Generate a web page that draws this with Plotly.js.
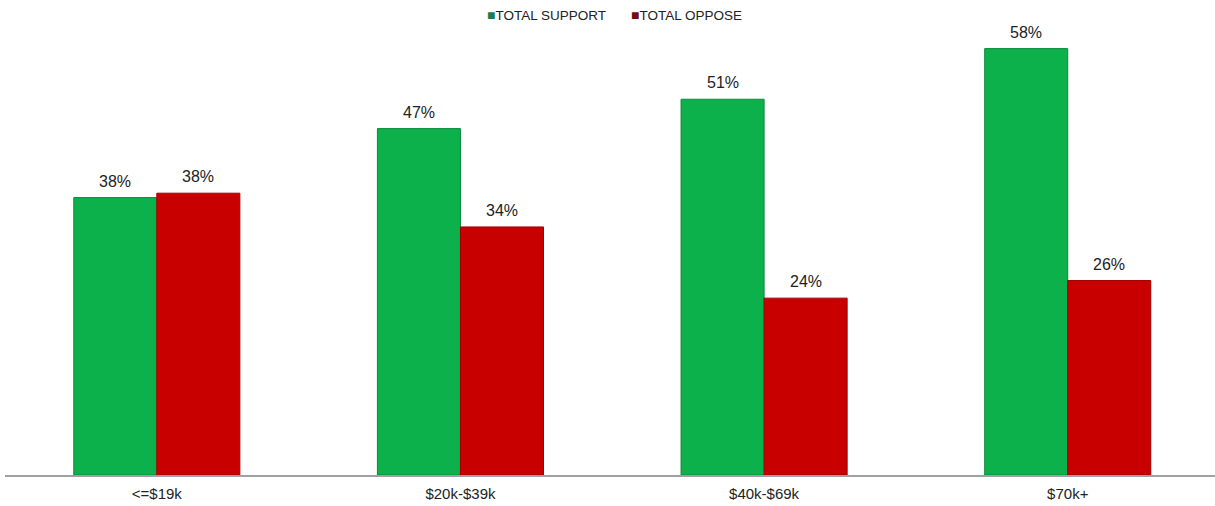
<!DOCTYPE html>
<html>
<head>
<meta charset="utf-8">
<script src="https://cdn.plot.ly/plotly-3.0.1.min.js"></script>
<style>html,body{margin:0;padding:0;background:#fff;}#chart{width:1215px;height:506px;}</style>
</head>
<body>
<div id="chart"></div>
<script>
const categories = ["<=$19k", "$20k-$39k", "$40k-$69k", "$70k+"];
const supportValues = [37.8, 47.2, 51.2, 58.1];
const opposeValues = [38.4, 33.8, 24.1, 26.5];
const supportLabels = ["38%", "47%", "51%", "58%"];
const opposeLabels = ["38%", "34%", "24%", "26%"];
const seriesNames = ["TOTAL SUPPORT", "TOTAL OPPOSE"];
const legendColors = ["#1b7d4f", "#7a0a10"];

const FONT = "Liberation Sans, Arial, sans-serif";
const traces = [
  {type: "bar", x: categories, y: supportValues, name: seriesNames[0], showlegend: false,
   offsetgroup: "s", marker: {color: "#0db14b", line: {color: "#0a8a3a", width: 1}}, hoverinfo: "none"},
  {type: "bar", x: categories, y: opposeValues, name: seriesNames[1], showlegend: false,
   offsetgroup: "o", marker: {color: "#c80000", line: {color: "#a00000", width: 1}}, hoverinfo: "none"}
];

const annotations = [];
const halfBar = 41.5;
categories.forEach((c, i) => {
  annotations.push({x: c, y: supportValues[i], xref: "x", yref: "y", text: supportLabels[i],
    showarrow: false, xshift: -halfBar, yanchor: "bottom", yshift: 6,
    font: {family: FONT, size: 16, color: "#222"}});
  annotations.push({x: c, y: opposeValues[i], xref: "x", yref: "y", text: opposeLabels[i],
    showarrow: false, xshift: halfBar, yanchor: "bottom", yshift: 6,
    font: {family: FONT, size: 16, color: "#222"}});
});
const legendX = [0.3965, 0.5155];
seriesNames.forEach((n, i) => {
  annotations.push({xref: "paper", yref: "paper", x: legendX[i], y: 1.036, xanchor: "left", yanchor: "middle",
    showarrow: false,
    text: "<span style='color:" + legendColors[i] + ";font-size:14px'>■</span>" + n,
    font: {family: FONT, size: 13.5, color: "#222"}});
});

const layout = {
  width: 1215, height: 506,
  margin: {l: 5, r: 0, t: 31, b: 31},
  paper_bgcolor: "#fff", plot_bgcolor: "#fff",
  barmode: "group", bargap: 0.453, bargroupgap: 0,
  font: {family: FONT, color: "#222"},
  showlegend: false,
  annotations: annotations,
  xaxis: {type: "category", showgrid: false, zeroline: false, showline: true,
          linecolor: "#a0a0a0", linewidth: 1.5, ticks: "", tickfont: {size: 15, color: "#222"},
          ticklabelstandoff: 4, range: [-0.5, 3.485]},
  yaxis: {range: [0, 60.5], visible: false, showgrid: false, zeroline: false}
};

Plotly.newPlot("chart", traces, layout, {displayModeBar: false, staticPlot: true});
</script>
</body>
</html>
